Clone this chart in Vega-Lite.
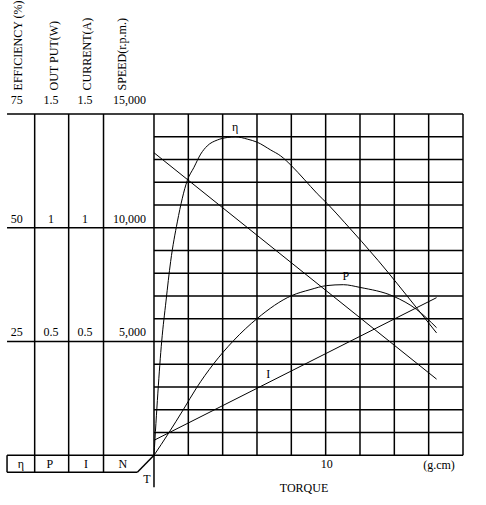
{
  "$schema": "https://vega.github.io/schema/vega-lite/v6.json",
  "width": 486,
  "height": 505,
  "autosize": {"type": "fit", "contains": "padding"},
  "padding": 0,
  "background": "white",
  "config": {
    "view": {"stroke": null},
    "text": {"font": "Liberation Serif", "fontSize": 12, "color": "black"}
  },
  "datasets": {
    "segments": [
      {"t": 0, "t2": 0, "e": -7, "e2": 75},
      {"t": 2, "t2": 2, "e": 0, "e2": 75},
      {"t": 4, "t2": 4, "e": 0, "e2": 75},
      {"t": 6, "t2": 6, "e": 0, "e2": 75},
      {"t": 8, "t2": 8, "e": 0, "e2": 75},
      {"t": 10, "t2": 10, "e": 0, "e2": 75},
      {"t": 12, "t2": 12, "e": 0, "e2": 75},
      {"t": 14, "t2": 14, "e": 0, "e2": 75},
      {"t": 16, "t2": 16, "e": 0, "e2": 75},
      {"t": 18, "t2": 18, "e": 0, "e2": 75},
      {"t": -8.56, "t2": 18, "e": 0, "e2": 0},
      {"t": 0, "t2": 18, "e": 5, "e2": 5},
      {"t": 0, "t2": 18, "e": 10, "e2": 10},
      {"t": 0, "t2": 18, "e": 15, "e2": 15},
      {"t": 0, "t2": 18, "e": 20, "e2": 20},
      {"t": -8.56, "t2": 18, "e": 25, "e2": 25},
      {"t": 0, "t2": 18, "e": 30, "e2": 30},
      {"t": 0, "t2": 18, "e": 35, "e2": 35},
      {"t": 0, "t2": 18, "e": 40, "e2": 40},
      {"t": 0, "t2": 18, "e": 45, "e2": 45},
      {"t": -8.56, "t2": 18, "e": 50, "e2": 50},
      {"t": 0, "t2": 18, "e": 55, "e2": 55},
      {"t": 0, "t2": 18, "e": 60, "e2": 60},
      {"t": 0, "t2": 18, "e": 65, "e2": 65},
      {"t": 0, "t2": 18, "e": 70, "e2": 70},
      {"t": -8.56, "t2": 18, "e": 75, "e2": 75},
      {"t": -6.95, "t2": -6.95, "e": -3.71, "e2": 75},
      {"t": -4.97, "t2": -4.97, "e": -3.71, "e2": 75},
      {"t": -2.94, "t2": -2.94, "e": -3.71, "e2": 75},
      {"t": -8.56, "t2": -8.56, "e": -3.71, "e2": 0},
      {"t": -8.56, "t2": -0.97, "e": -3.71, "e2": -3.71},
      {"t": -0.97, "t2": 0, "e": -3.71, "e2": 0}
    ],
    "efficiency": [
      {"torque": 0, "value": 0},
      {"torque": 0.45, "value": 25.1},
      {"torque": 0.7, "value": 33.9},
      {"torque": 0.97, "value": 42.6},
      {"torque": 1.36, "value": 51.3},
      {"torque": 1.94, "value": 60.4},
      {"torque": 2.33, "value": 63.3},
      {"torque": 2.72, "value": 66.2},
      {"torque": 3.1, "value": 68.0},
      {"torque": 3.69, "value": 69.3},
      {"torque": 4.27, "value": 69.85},
      {"torque": 4.76, "value": 70.0},
      {"torque": 5.43, "value": 69.5},
      {"torque": 6.02, "value": 68.8},
      {"torque": 6.8, "value": 67.1},
      {"torque": 7.38, "value": 65.8},
      {"torque": 8.02, "value": 63.6},
      {"torque": 8.74, "value": 60.7},
      {"torque": 9.51, "value": 57.5},
      {"torque": 10.1, "value": 55.3},
      {"torque": 11.12, "value": 51.1},
      {"torque": 13.06, "value": 42.8},
      {"torque": 15.3, "value": 32.4},
      {"torque": 16.46, "value": 26.9}
    ],
    "output": [
      {"torque": 0, "value": 0},
      {"torque": 0.83, "value": 0.095},
      {"torque": 1.71, "value": 0.201},
      {"torque": 2.49, "value": 0.298},
      {"torque": 3.46, "value": 0.401},
      {"torque": 4.62, "value": 0.503},
      {"torque": 6.02, "value": 0.602},
      {"torque": 8.02, "value": 0.702},
      {"torque": 9.09, "value": 0.728},
      {"torque": 10.06, "value": 0.746},
      {"torque": 11.03, "value": 0.75},
      {"torque": 12.0, "value": 0.738},
      {"torque": 13.95, "value": 0.699},
      {"torque": 15.3, "value": 0.641},
      {"torque": 16.46, "value": 0.561}
    ],
    "current": [
      {"torque": 0, "value": 0.066},
      {"torque": 16.46, "value": 0.693}
    ],
    "speed": [
      {"torque": 0, "value": 13300},
      {"torque": 16.46, "value": 3350}
    ],
    "headers": [
      {"label": "EFFICIENCY (%)", "t": -7.93, "e": 80.2},
      {"label": "OUT PUT(W)", "t": -5.83, "e": 80.2},
      {"label": "CURRENT(A)", "t": -3.91, "e": 80.2},
      {"label": "SPEED(r.p.m.)", "t": -1.87, "e": 80.2}
    ],
    "ticks": [
      {"label": "75", "t": -8.0, "e": 78.2},
      {"label": "1.5", "t": -6.0, "e": 78.2},
      {"label": "1.5", "t": -4.02, "e": 78.2},
      {"label": "50", "t": -8.0, "e": 52.0},
      {"label": "1", "t": -6.0, "e": 52.0},
      {"label": "1", "t": -4.02, "e": 52.0},
      {"label": "25", "t": -8.0, "e": 27.1},
      {"label": "0.5", "t": -6.0, "e": 27.1},
      {"label": "0.5", "t": -4.02, "e": 27.1},
      {"label": "η", "t": -7.76, "e": -1.97},
      {"label": "P", "t": -6.06, "e": -1.97},
      {"label": "I", "t": -3.96, "e": -1.97},
      {"label": "N", "t": -1.81, "e": -1.97},
      {"label": "η", "t": 4.72, "e": 72.1},
      {"label": "P", "t": 11.18, "e": 39.3},
      {"label": "I", "t": 6.66, "e": 17.85},
      {"label": "10", "t": 10.07, "e": -1.97},
      {"label": "(g.cm)", "t": 16.6, "e": -2.18},
      {"label": "TORQUE", "t": 8.74, "e": -7.2},
      {"label": "T", "t": -0.41, "e": -5.24}
    ],
    "speedTicks": [
      {"label": "15,000", "t": -0.47, "e": 78.2},
      {"label": "10,000", "t": -0.47, "e": 52.0},
      {"label": "5,000", "t": -0.47, "e": 27.1}
    ]
  },
  "layer": [
    {
      "data": {"name": "segments"},
      "mark": {"type": "rule", "color": "black", "strokeWidth": 1.5},
      "encoding": {
        "x": {"field": "t", "type": "quantitative", "axis": null, "scale": {"domain": [-8.97, 19.34], "nice": false, "zero": false}},
        "x2": {"field": "t2"},
        "y": {"field": "e", "type": "quantitative", "axis": null, "scale": {"domain": [-10.92, 99.41], "nice": false, "zero": false}},
        "y2": {"field": "e2"}
      }
    },
    {
      "data": {"name": "efficiency"},
      "mark": {"type": "line", "color": "black", "strokeWidth": 1, "interpolate": "monotone"},
      "encoding": {
        "x": {"field": "torque", "type": "quantitative"},
        "y": {"field": "value", "type": "quantitative", "axis": null, "scale": {"domain": [-10.92, 99.41], "nice": false, "zero": false}}
      }
    },
    {
      "data": {"name": "output"},
      "mark": {"type": "line", "color": "black", "strokeWidth": 1, "interpolate": "monotone"},
      "encoding": {
        "x": {"field": "torque", "type": "quantitative"},
        "y": {"field": "value", "type": "quantitative", "axis": null, "scale": {"domain": [-0.2184, 1.9882], "nice": false, "zero": false}}
      }
    },
    {
      "data": {"name": "current"},
      "mark": {"type": "line", "color": "black", "strokeWidth": 1},
      "encoding": {
        "x": {"field": "torque", "type": "quantitative"},
        "y": {"field": "value", "type": "quantitative", "axis": null, "scale": {"domain": [-0.2184, 1.9882], "nice": false, "zero": false}}
      }
    },
    {
      "data": {"name": "speed"},
      "mark": {"type": "line", "color": "black", "strokeWidth": 1},
      "encoding": {
        "x": {"field": "torque", "type": "quantitative"},
        "y": {"field": "value", "type": "quantitative", "axis": null, "scale": {"domain": [-2184, 19882], "nice": false, "zero": false}}
      }
    },
    {
      "data": {"name": "headers"},
      "mark": {"type": "text", "angle": 270, "align": "left", "baseline": "middle"},
      "encoding": {
        "x": {"field": "t", "type": "quantitative"},
        "y": {"field": "e", "type": "quantitative", "axis": null, "scale": {"domain": [-10.92, 99.41], "nice": false, "zero": false}},
        "text": {"field": "label"}
      }
    },
    {
      "data": {"name": "ticks"},
      "mark": {"type": "text", "align": "center", "baseline": "middle"},
      "encoding": {
        "x": {"field": "t", "type": "quantitative"},
        "y": {"field": "e", "type": "quantitative", "axis": null, "scale": {"domain": [-10.92, 99.41], "nice": false, "zero": false}},
        "text": {"field": "label"}
      }
    },
    {
      "data": {"name": "speedTicks"},
      "mark": {"type": "text", "align": "right", "baseline": "middle"},
      "encoding": {
        "x": {"field": "t", "type": "quantitative"},
        "y": {"field": "e", "type": "quantitative", "axis": null, "scale": {"domain": [-10.92, 99.41], "nice": false, "zero": false}},
        "text": {"field": "label"}
      }
    }
  ],
  "resolve": {"scale": {"y": "independent"}}
}
